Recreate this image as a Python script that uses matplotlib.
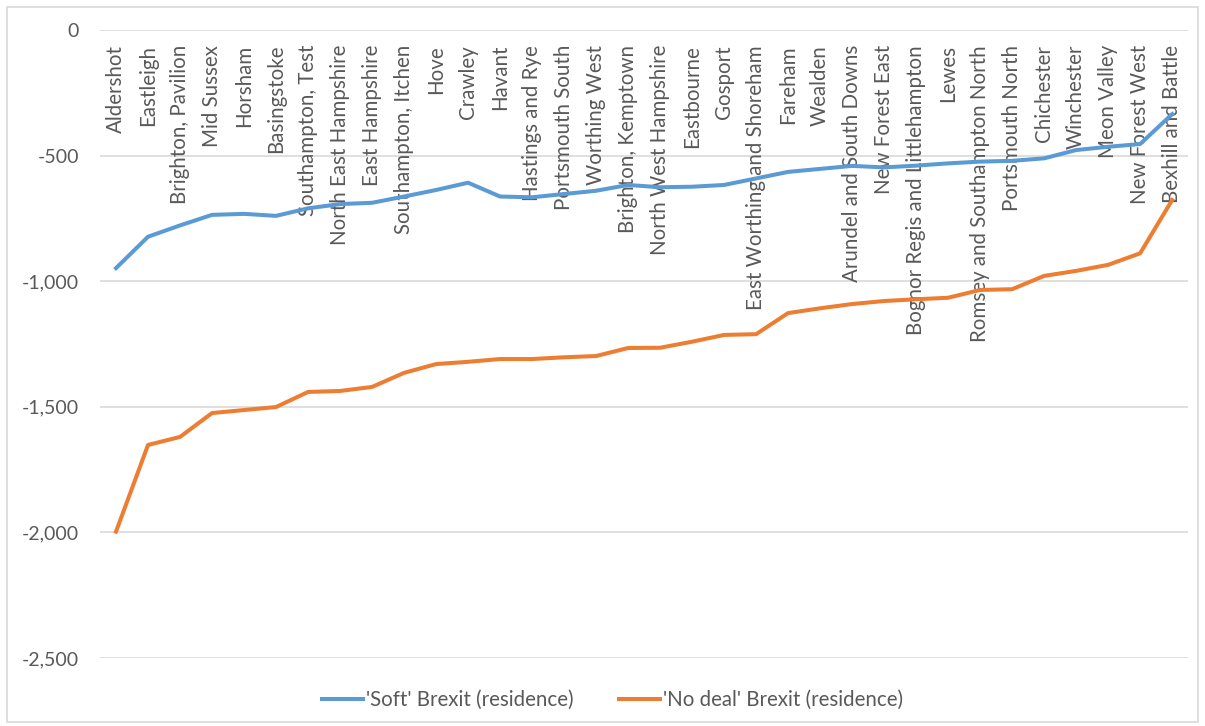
import matplotlib.pyplot as plt
from matplotlib.patches import Rectangle
from matplotlib.ticker import FuncFormatter

plt.rcParams['font.family'] = ['Lato', 'DejaVu Sans']

constituencies = [
    'Aldershot', 'Eastleigh', 'Brighton, Pavilion', 'Mid Sussex', 'Horsham',
    'Basingstoke', 'Southampton, Test', 'North East Hampshire', 'East Hampshire',
    'Southampton, Itchen', 'Hove', 'Crawley', 'Havant', 'Hastings and Rye',
    'Portsmouth South', 'Worthing West', 'Brighton, Kemptown',
    'North West Hampshire', 'Eastbourne', 'Gosport', 'East Worthing and Shoreham',
    'Fareham', 'Wealden', 'Arundel and South Downs', 'New Forest East',
    'Bognor Regis and Littlehampton', 'Lewes', 'Romsey and Southampton North',
    'Portsmouth North', 'Chichester', 'Winchester', 'Meon Valley',
    'New Forest West', 'Bexhill and Battle',
]

soft_brexit = [
    -948, -823, -778, -736, -732, -740, -710, -693, -688, -663,
    -637, -608, -663, -666, -653, -640, -617, -626, -624, -617,
    -591, -565, -553, -541, -547, -540, -531, -524, -521, -511,
    -478, -465, -454, -335,
]

no_deal = [
    -1997, -1652, -1620, -1525, -1513, -1501, -1441, -1437, -1421, -1365,
    -1330, -1321, -1310, -1310, -1303, -1298, -1266, -1265, -1241, -1214,
    -1211, -1127, -1108, -1091, -1079, -1072, -1066, -1035, -1032, -979,
    -959, -935, -889, -677,
]

blue = '#5B9BD5'
orange = '#ED7D31'
grey_txt = '#595959'

fig = plt.figure(figsize=(12.05, 7.26), dpi=100)
fig.patches.append(Rectangle((0.006, 0.006), 0.988, 0.985, transform=fig.transFigure,
                             fill=False, edgecolor='#d9d9d9', linewidth=1.2))

ax = fig.add_axes([0.083, 0.0937, 0.903, 0.865])

x = list(range(len(constituencies)))
ax.plot(x, soft_brexit, color=blue, lw=2.9, solid_joinstyle='round',
        label="'Soft' Brexit (residence)", zorder=3)
ax.plot(x, no_deal, color=orange, lw=2.9, solid_joinstyle='round',
        label="'No deal' Brexit (residence)", zorder=3)

ax.set_xlim(-0.5, len(constituencies) - 0.5)
ax.set_ylim(-2500, 0)
ax.set_yticks([0, -500, -1000, -1500, -2000, -2500])
ax.yaxis.set_major_formatter(FuncFormatter(lambda v, p: f'{v:,.0f}'))
ax.tick_params(axis='y', length=0, pad=15, labelsize=14, labelcolor=grey_txt)
ax.set_xticks([])
ax.grid(axis='y', color='#d9d9d9', lw=1.2)
ax.set_axisbelow(True)
for s in ax.spines.values():
    s.set_visible(False)

# category labels hang down from the zero line
for i, name in enumerate(constituencies):
    ax.annotate(name, xy=(i, 0), xytext=(0, -15), textcoords='offset pixels',
                rotation=90, ha='center', va='top', fontsize=14.8,
                color=grey_txt, zorder=2)

fig.legend(loc='upper center', bbox_to_anchor=(0.508, 0.075), ncol=2, frameon=False,
           fontsize=14.8, labelcolor=grey_txt, handlelength=2.0, handletextpad=0.15,
           columnspacing=2.2)

fig.savefig('out.png', dpi=100)
